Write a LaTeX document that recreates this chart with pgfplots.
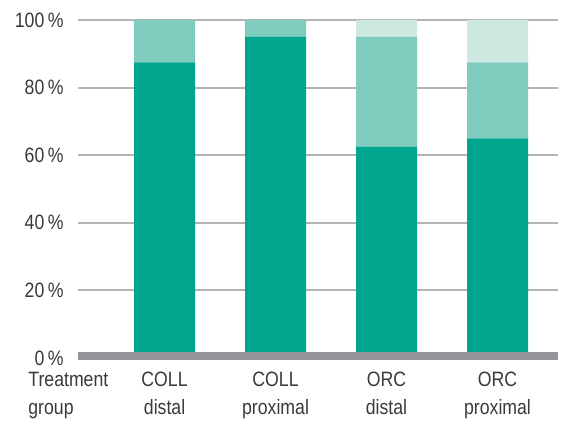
\documentclass[border=0pt]{standalone}
\usepackage{fontspec}
\setmainfont{Liberation Sans}[FakeStretch=0.85]
\usepackage{pgfplots}
\pgfplotsset{compat=1.18}
\definecolor{cdark}{HTML}{00A58E}
\definecolor{cmed}{HTML}{7FCBBD}
\definecolor{clight}{HTML}{CDE7E1}
\definecolor{cgrid}{HTML}{B3B3B3}
\definecolor{cbase}{HTML}{939598}
\definecolor{ctext}{HTML}{3A3A3A}
\begin{document}
\begin{tikzpicture}
\path[use as bounding box] (-39pt,-32.5pt) rectangle (244.5pt,179pt);
\begin{axis}[
  at={(0,0)}, anchor=south west,
  scale only axis, width=240pt, height=169pt,
  ybar stacked, bar width=30.5pt,
  xmin=-0.78, xmax=3.545, ymin=0, ymax=100,
  axis line style={draw=none},
  xtick={0,1,2,3},
  xticklabels={COLL\\distal, COLL\\proximal, ORC\\distal, ORC\\proximal},
  ytick={0,20,40,60,80,100},
  yticklabels={0\,\%,20\,\%,40\,\%,60\,\%,80\,\%,100\,\%},
  ymajorgrids, grid style={cgrid, line width=1pt},
  major tick length=0pt,
  tick label style={font=\fontsize{10.4}{14}\selectfont, text=ctext},
  xticklabel style={anchor=north, align=center, inner sep=0pt, yshift=-7pt},
  yticklabel style={anchor=east, inner sep=0pt, xshift=-7pt},
  clip=false,
]
\addplot[fill=cdark, draw=none] coordinates {(0,87.5) (1,95) (2,62.5) (3,65)};
\addplot[fill=cmed, draw=none] coordinates {(0,12.5) (1,5) (2,32.5) (3,22.5)};
\addplot[fill=clight, draw=none] coordinates {(0,0) (1,0) (2,5) (3,12.5)};
\node[anchor=north west, align=left, inner sep=0pt, yshift=-7pt, xshift=-25pt,
  font=\fontsize{10.4}{14}\selectfont, text=ctext] at (rel axis cs:0,0) {Treatment\\group};
\end{axis}
\draw[cbase, line width=4pt] (0,1pt) -- (240pt,1pt);
\end{tikzpicture}
\end{document}
